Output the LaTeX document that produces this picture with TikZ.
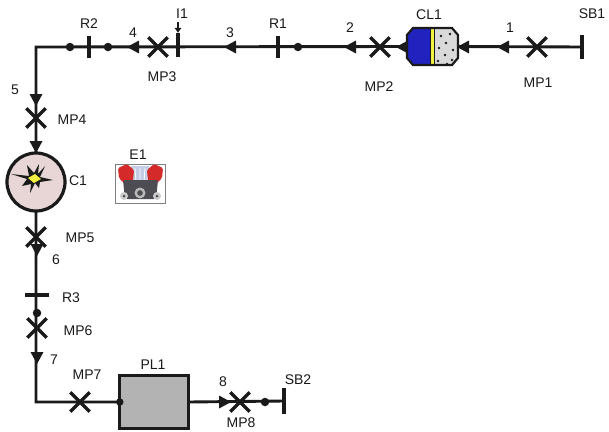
\documentclass[tikz,border=0pt]{standalone}
\usepackage{fontspec}
\setmainfont{Liberation Sans}
\usetikzlibrary{shapes.misc,arrows.meta}

\definecolor{ink}{HTML}{1A1A1A}
\definecolor{cfill}{HTML}{E8D6D6}
\definecolor{clblue}{RGB}{34,34,190}
\definecolor{clgray}{HTML}{D9D9D9}
\definecolor{clyel}{HTML}{F2F040}
\definecolor{plgray}{HTML}{B3B3B3}
\definecolor{engred}{HTML}{D42A2A}
\definecolor{engblue}{HTML}{C3CDE6}
\definecolor{engdark}{HTML}{4C4C52}

% filled flow arrowhead: tip at (#1,#2), pointing at angle #3
\newcommand\flowtip[3]{\fill[ink,shift={(#1,#2)},rotate=#3] (0,0) -- (-12,6.5) -- (-12,-6.5) -- cycle;}

\begin{document}
\begin{tikzpicture}[x=1pt,y=-1pt,
  pipe/.style={draw=ink,line width=2.9pt},
  mpx/.style={cross out,draw=ink,line width=3.4pt,minimum size=16pt,inner sep=0pt},
  vbar/.style={inner sep=0pt,minimum width=0pt,minimum height=#1},
  hbar/.style={inner sep=0pt,minimum height=0pt,minimum width=#1},
  barline/.style={draw=ink,line width=3.6pt},
  jdot/.style={circle,fill=ink,inner sep=0pt,minimum size=8.5pt},
  lbl/.style={text=ink,font=\fontsize{14}{16}\selectfont,inner sep=0pt}]
\useasboundingbox (0,0) rectangle (609,431);
\fill[white] (0,0) rectangle (609,431);

% ---- component anchors ----
\coordinate (TL) at (36,47);
\coordinate (BL) at (36,402);
\node[vbar=24pt] (SB1) at (582,47) {};
\node[mpx] (MP1) at (537,47) {};
\node[inner sep=0pt,minimum width=51pt,minimum height=37pt] (CL1) at (432.5,46.5) {};
\node[mpx] (MP2) at (380,47) {};
\node[jdot] (d1) at (298,47) {};
\node[vbar=22pt] (R1) at (278,47) {};
\node[vbar=24pt] (I1) at (178,45) {};
\node[mpx] (MP3) at (158,47) {};
\node[jdot] (d2) at (108,47) {};
\node[vbar=22pt] (R2) at (89,47) {};
\node[jdot] (d3) at (70,47) {};
\node[mpx] (MP4) at (36,118) {};
\node[circle,inner sep=0pt,minimum size=58pt] (C1) at (36,182) {};
\node[mpx] (MP5) at (36,237) {};
\node[hbar=24pt] (R3) at (37,295) {};
\node[jdot] (d4) at (37,313) {};
\node[mpx] (MP6) at (37,328) {};
\node[mpx] (MP7) at (80,402) {};
\node[inner sep=0pt,minimum width=68pt,minimum height=52pt] (PL1) at (154,402) {};
\node[mpx] (MP8) at (240,402) {};
\node[jdot] (d5) at (265,402) {};
\node[vbar=25pt] (SB2) at (284,401) {};

% ---- pipes ----
\draw[pipe] (SB1.center) -- (CL1.east);
\draw[pipe] (CL1.west) -- (TL) -- (BL) -- (PL1.west);
\draw[pipe] (PL1.east) -- (SB2.center);

% ---- flow arrowheads ----
\flowtip{497}{47}{180}
\flowtip{457}{47}{180}
\flowtip{396}{47}{180}
\flowtip{344}{47}{180}
\flowtip{224}{47}{180}
\flowtip{127}{47}{180}
\flowtip{36}{106}{-90}
\flowtip{36}{153}{-90}
\flowtip{37}{256}{-90}
\flowtip{37}{364}{-90}
\flowtip{231}{402}{0}

% ---- boundaries, restrictions, injection ----
\draw[barline] (SB1.north) -- (SB1.south);
\draw[barline] (SB2.north) -- (SB2.south);
\draw[barline] (R1.north) -- (R1.south);
\draw[barline] (R2.north) -- (R2.south);
\draw[barline] (I1.north) -- (I1.south);
\draw[barline] (R3.west) -- (R3.east);
\coordinate (I1in) at (178,22);
\draw[draw=ink,line width=1.5pt,-{Triangle[length=5pt,width=6.5pt]}] (I1in) -- (I1.north);

% ---- CL1 cooler ----
\begin{scope}
  \clip (413,28) -- (452,28) -- (458,35) -- (458,58) -- (452,65) -- (413,65) -- (407,58) -- (407,35) -- cycle;
  \fill[clgray] (400,20) rectangle (465,70);
  \fill[clblue] (400,20) rectangle (430,70);
  \fill[clyel] (430,20) rectangle (434,70);
  \draw[ink,line width=0.9pt] (430,20) -- (430,70) (434,20) -- (434,70);
  \foreach \p in {(441,36),(450,34),(446,43),(439,48),(453,50),(445,55),(438,61),(452,60),(447,64)}
    \fill[ink] \p circle (1.3);
\end{scope}
\draw[ink,line width=2.2pt] (413,28) -- (452,28) -- (458,35) -- (458,58) -- (452,65) -- (413,65) -- (407,58) -- (407,35) -- cycle;

% ---- C1 combustor ----
\draw[ink,fill=cfill,line width=3.2pt] (C1) circle (29);
\fill[ink] (11,174) -- (29,176) -- (27,165) -- (34,173) -- (39,164) -- (38,174) -- (45,166)
  -- (40,177) -- (53,180) -- (40,182) -- (39,188) -- (35,183) -- (30,193) -- (31,184) -- (22,186) -- (27,179) -- cycle;
\fill[clyel] (28,178) -- (35,174) -- (41,179) -- (34,183) -- cycle;

% ---- PL1 plenum ----
\draw[ink,fill=plgray,line width=3.2pt] (PL1.north west) rectangle (PL1.south east);
\node[jdot,minimum size=7.5pt] at (PL1.west) {};

% ---- E1 engine ----
\node[draw=gray,line width=0.9pt,fill=white,minimum width=50pt,minimum height=39pt,inner sep=0pt] (E1) at (140.5,184) {};
\fill[engblue] (131,166) -- (149,166) -- (147,183) -- (133,183) -- cycle;
\draw[white,line width=0.8pt] (135,168) -- (136,182) (140,168) -- (140,182) (145,168) -- (144,182);
\fill[engred,rounded corners=1.5pt] (118,168) -- (127,164) -- (134,170) -- (133,181) -- (125,184) -- (119,178) -- cycle;
\fill[engred,rounded corners=1.5pt] (163,168) -- (154,164) -- (147,170) -- (148,181) -- (156,184) -- (162,178) -- cycle;
\fill[engdark,rounded corners=2pt] (123,180) -- (158,180) -- (156,199) -- (125,199) -- cycle;
\fill[gray!55] (140,193) circle (5.5);
\fill[engdark] (140,193) circle (2.8);
\fill[gray!40] (124,196) circle (4);
\fill[engdark] (124,196) circle (1.5);
\fill[gray!40] (157,196) circle (4);
\fill[engdark] (157,196) circle (1.5);

% ---- labels ----
\node[lbl] at (592,14) {SB1};
\node[lbl] at (510,28) {1};
\node[lbl] at (538,83) {MP1};
\node[lbl] at (429,15) {CL1};
\node[lbl] at (350,28) {2};
\node[lbl] at (379,87) {MP2};
\node[lbl] at (278,24) {R1};
\node[lbl] at (230,33) {3};
\node[lbl] at (182,14) {I1};
\node[lbl] at (162,77) {MP3};
\node[lbl] at (133,33) {4};
\node[lbl] at (89,24) {R2};
\node[lbl] at (15,90) {5};
\node[lbl] at (72,120) {MP4};
\node[lbl] at (138,155) {E1};
\node[lbl] at (78,181) {C1};
\node[lbl] at (80,238) {MP5};
\node[lbl] at (56,260) {6};
\node[lbl] at (71,298) {R3};
\node[lbl] at (78,331) {MP6};
\node[lbl] at (54,360) {7};
\node[lbl] at (87,375) {MP7};
\node[lbl] at (153,365) {PL1};
\node[lbl] at (223,382) {8};
\node[lbl] at (298,380) {SB2};
\node[lbl] at (241,423) {MP8};
\end{tikzpicture}
\end{document}
